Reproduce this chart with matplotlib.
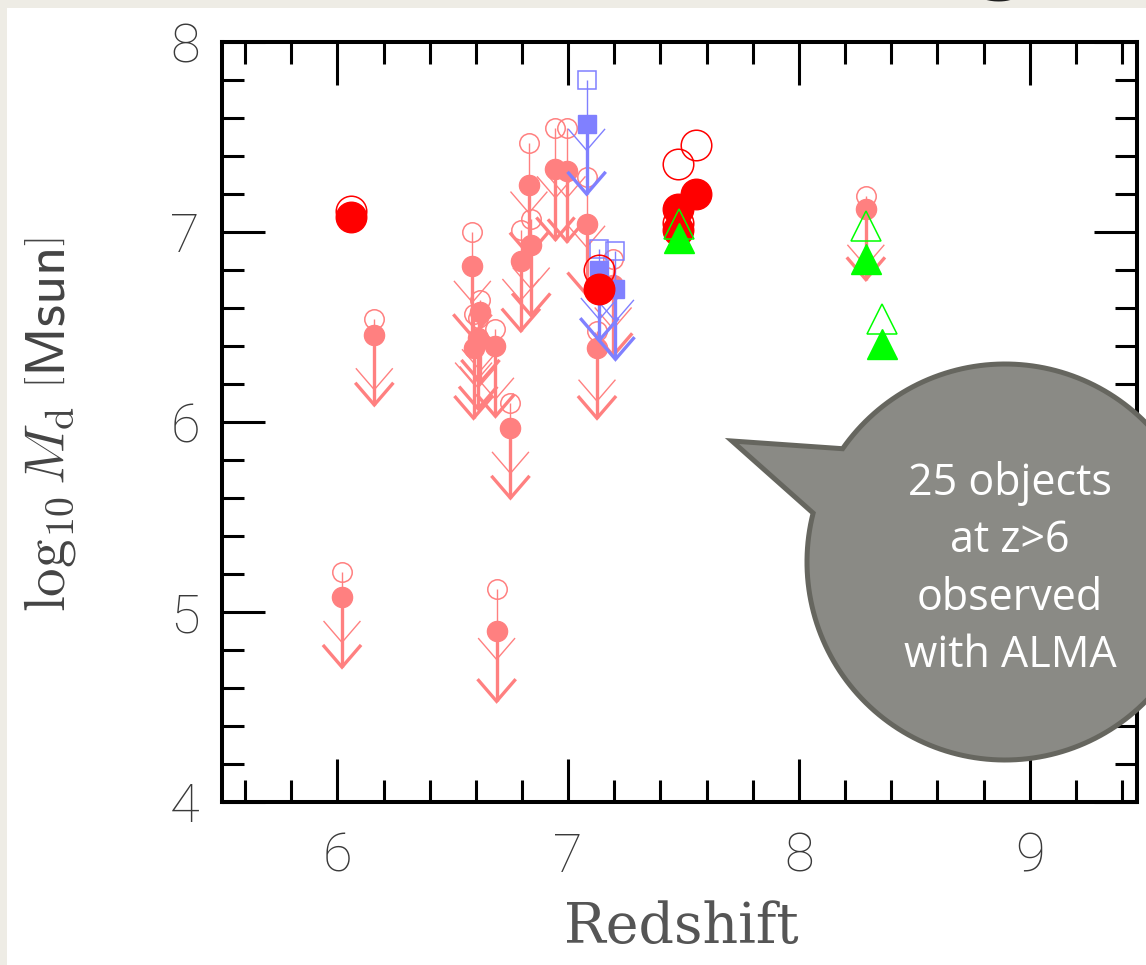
import numpy as np
import matplotlib
matplotlib.use('Agg')
import matplotlib.pyplot as plt
from matplotlib.path import Path
from matplotlib.patches import PathPatch, Rectangle
from matplotlib.ticker import MultipleLocator

W, H = 1146, 965

# upper limits: redshift, open-symbol log Md, filled-symbol log Md
lim_z    = [6.02, 6.16, 6.585, 6.62, 6.59, 6.61, 6.685, 6.69, 6.75, 6.795, 6.83, 6.84, 6.945, 6.995, 7.08, 7.125, 7.195, 8.29]
lim_open = [5.21, 6.54, 7.00, 6.64, 6.57, 6.55, 6.49, 5.12, 6.10, 7.01, 7.47, 7.07, 7.55, 7.55, 7.29, 6.48, 6.86, 7.19]
lim_fill = [5.08, 6.46, 6.82, 6.58, 6.39, 6.44, 6.40, 4.90, 5.97, 6.85, 7.25, 6.93, 7.33, 7.32, 7.04, 6.39, 6.72, 7.12]

# upper limits, second sample (squares)
sq_z    = [7.08, 7.135, 7.205]
sq_open = [7.80, 6.91, 6.90]
sq_fill = [7.57, 6.80, 6.70]

# detections (big circles)
det_z    = [6.06, 7.135, 7.475, 7.555, 7.475]
det_open = [7.11, 6.80, 7.36, 7.46, 7.05]
det_fill = [7.08, 6.70, 7.12, 7.20, 7.01]

# triangles
tri_z    = [7.48, 8.29, 8.36]
tri_open = [7.04, 7.03, 6.54]
tri_fill = [6.97, 6.86, 6.41]

bubble_lines = ['25 objects', 'at z>6', 'observed', 'with ALMA']

SALMON = '#ff8080'
BLUE = '#8080ff'
RED = '#ff0000'
GREEN = '#00ff00'

ARROW_LEN = 0.37
HEAD_DX = 0.078
HEAD_DY = 0.11


def arrow(ax, z, y, color, lw, zo):
    tip = y - ARROW_LEN
    ax.plot([z, z], [y, tip], color=color, lw=lw, zorder=zo, solid_capstyle='butt')
    ax.plot([z - HEAD_DX, z, z + HEAD_DX], [tip + HEAD_DY, tip, tip + HEAD_DY],
            color=color, lw=lw, zorder=zo, solid_joinstyle='miter')


fig = plt.figure(figsize=(W / 100, H / 100), dpi=100, facecolor='#eeece5')
fig.patches.append(Rectangle((7 / W, 0), 1, 1 - 8 / H, transform=fig.transFigure,
                             facecolor='white', edgecolor='none', zorder=-10))

ax = fig.add_axes([222 / W, 1 - 802 / H, (1137 - 222) / W, (802 - 42) / H])
ax.set_xlim(5.5, 9.465)
ax.set_ylim(4, 8)

# salmon upper limits
for z, yo, yf in zip(lim_z, lim_open, lim_fill):
    arrow(ax, z, yo, SALMON, 1.0, 2)
    arrow(ax, z, yf, SALMON, 2.4, 2)
ax.plot(lim_z, lim_open, 'o', ms=14, mfc='none', mec=SALMON, mew=1.1, ls='none', zorder=3)
ax.plot(lim_z, lim_fill, 'o', ms=14.5, mfc=SALMON, mec=SALMON, ls='none', zorder=3)

# square upper limits
for z, yo, yf in zip(sq_z, sq_open, sq_fill):
    arrow(ax, z, yo, BLUE, 1.0, 4)
    arrow(ax, z, yf, BLUE, 2.4, 4)
ax.plot(sq_z, sq_open, 's', ms=13.5, mfc='none', mec=BLUE, mew=1.1, ls='none', zorder=5)
ax.plot(sq_z, sq_fill, 's', ms=13.5, mfc=BLUE, mec=BLUE, ls='none', zorder=5)

# detections
ax.plot(det_z, det_open, 'o', ms=22, mfc='none', mec=RED, mew=1.1, ls='none', zorder=6)
ax.plot(det_z, det_fill, 'o', ms=22, mfc=RED, mec=RED, ls='none', zorder=6)

# triangles
ax.plot(tri_z, tri_open, '^', ms=21, mfc='none', mec=GREEN, mew=1.1, ls='none', zorder=7)
ax.plot(tri_z, tri_fill, '^', ms=21, mfc=GREEN, mec=GREEN, ls='none', zorder=7)

# frame and ticks
for s in ax.spines.values():
    s.set_linewidth(2.9)
ax.xaxis.set_major_locator(MultipleLocator(1))
ax.xaxis.set_minor_locator(MultipleLocator(0.2))
ax.yaxis.set_major_locator(MultipleLocator(1))
ax.yaxis.set_minor_locator(MultipleLocator(0.2))
ax.tick_params(which='both', direction='in', top=True, right=True, width=2.2)
ax.tick_params(which='major', length=31)
ax.tick_params(which='minor', length=16)
ax.tick_params(axis='x', which='major', pad=21)
ax.tick_params(axis='y', which='major', pad=16)
for lab in ax.get_xticklabels() + ax.get_yticklabels():
    lab.set_fontfamily('Roboto')
    lab.set_fontweight('light')
    lab.set_fontsize(39)
    lab.set_color('#3a3a3a')

fig.text(681 / W, 1 - 943 / H, 'Redshift', ha='center', va='baseline',
         fontsize=40, family='DejaVu Serif', color='#555555')
plt.rcParams['mathtext.fontset'] = 'cm'
fig.text(50 / W, 1 - 425 / H, r'$\log_{10}M_{\rm d}\ \left[\mathsf{Msun}\right]$',
         rotation=90, ha='center', va='center', fontsize=41, color='#444444')

# speech bubble with its pointer
cx, cy, r = 1005.0, 562.0, 198.0
a0 = np.deg2rad(145.1)
a1 = np.deg2rad(165.7 - 360)
ang = np.linspace(a0, a1, 200)
bx = cx + r * np.cos(ang)
by = cy - r * np.sin(ang)
verts = [(x / W, 1 - y / H) for x, y in zip(bx, by)]
verts.append((732 / W, 1 - 441 / H))
verts.append(verts[0])
codes = [Path.MOVETO] + [Path.LINETO] * (len(verts) - 2) + [Path.CLOSEPOLY]
bubble = PathPatch(Path(verts, codes), transform=fig.transFigure,
                   facecolor='#8a8a85', edgecolor='#66665f', lw=3.6, joinstyle='miter', zorder=5)
fig.add_artist(bubble)

for i, line in enumerate(bubble_lines):
    fig.text(1010 / W, 1 - (495 + 57.3 * i) / H, line, ha='center', va='baseline',
             fontsize=31, family='Open Sans', color='white', zorder=6)

# descender of the slide title above the figure
fig.text(1002 / W, 1 + 17 / H, 'g', ha='center', va='baseline', fontsize=60,
         family='DejaVu Sans', fontweight='bold', color='#1e1e1e')

fig.savefig('out.png', dpi=100, facecolor=fig.get_facecolor())
